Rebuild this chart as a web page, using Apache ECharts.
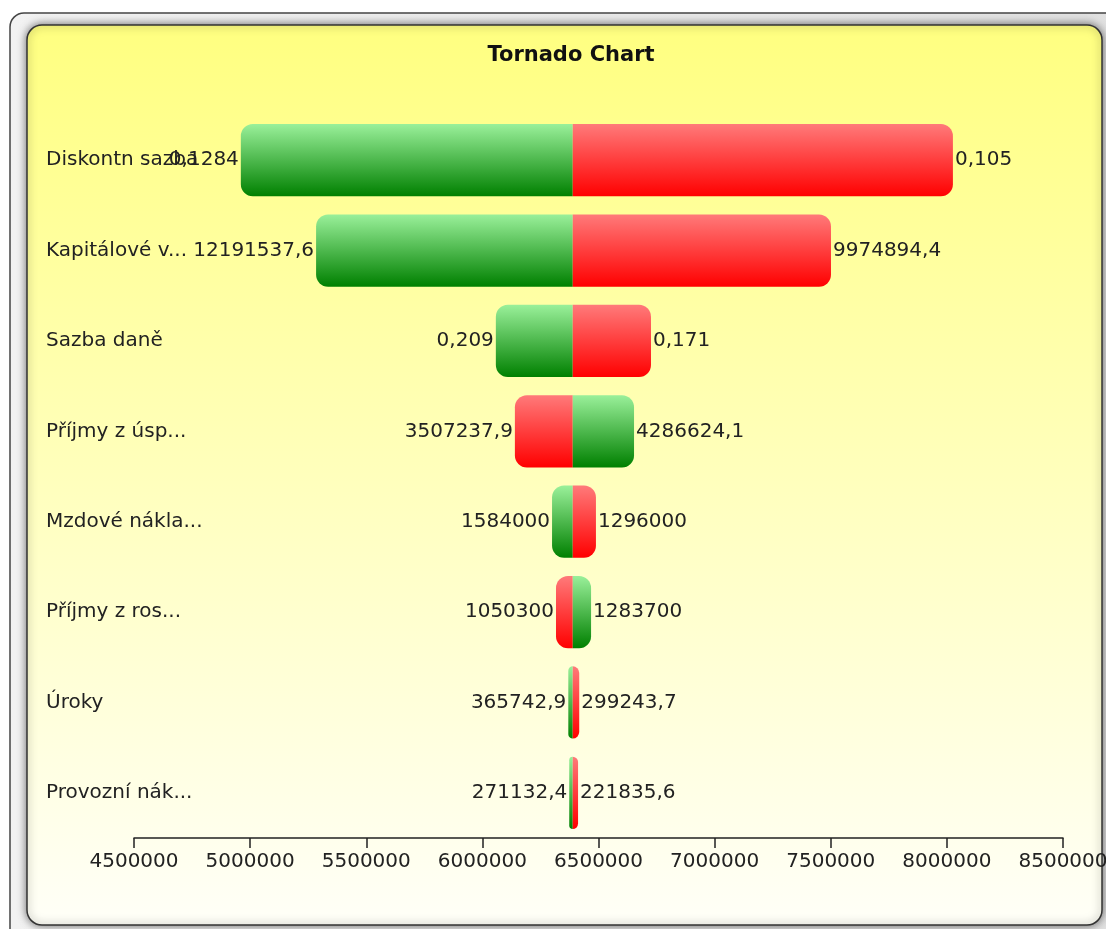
<!DOCTYPE html>
<html>
<head>
<meta charset="utf-8">
<script src="https://cdn.jsdelivr.net/npm/echarts@6/dist/echarts.min.js"></script>
<style>
  html, body { margin: 0; padding: 0; background: #ffffff; overflow: hidden; }
  #chart { width: 1106px; height: 929px; }
</style>
</head>
<body>
<div id="chart"></div>
<script>
// ---- data ----
const categories = ['Diskontn sazba', 'Kapitálové v...', 'Sazba daně', 'Příjmy z úsp...', 'Mzdové nákla...', 'Příjmy z ros...', 'Úroky', 'Provozní nák...'];
const baseNPV = 6389000;
// NPV when the input is at its high (+10 %) value -> green
const npvHigh = [4960000, 5284000, 6058000, 6653000, 6300000, 6468000, 6370000, 6374000];
// NPV when the input is at its low (-10 %) value -> red
const npvLow  = [8026000, 7501000, 6726000, 6140000, 6489000, 6317000, 6417000, 6412000];
const highInputLabels = ['0,1284', '12191537,6', '0,209', '4286624,1', '1584000', '1283700', '365742,9', '271132,4'];
const lowInputLabels  = ['0,105', '9974894,4', '0,171', '3507237,9', '1296000', '1050300', '299243,7', '221835,6'];
const axisMin = 4500000, axisMax = 8500000, axisStep = 500000;

// ---- styles ----
const FONT = 'DejaVu Sans';
const greenGrad = { type: 'linear', x: 0, y: 0, x2: 0, y2: 1,
  colorStops: [{ offset: 0, color: '#9af09a' }, { offset: 1, color: '#008000' }] };
const redGrad = { type: 'linear', x: 0, y: 0, x2: 0, y2: 1,
  colorStops: [{ offset: 0, color: '#ff7a7a' }, { offset: 1, color: '#ff0000' }] };

// ---- build rows ----
const leftEdge = [], leftSeg = [], rightSeg = [], leftText = [], rightText = [];
categories.forEach((c, i) => {
  const highIsLeft = npvHigh[i] <= npvLow[i];
  const lo = Math.min(npvHigh[i], npvLow[i]);
  const hi = Math.max(npvHigh[i], npvLow[i]);
  leftEdge.push(lo);
  leftSeg.push({ value: baseNPV - lo, itemStyle: { color: highIsLeft ? greenGrad : redGrad } });
  rightSeg.push({ value: hi - baseNPV, itemStyle: { color: highIsLeft ? redGrad : greenGrad } });
  leftText.push(highIsLeft ? highInputLabels[i] : lowInputLabels[i]);
  rightText.push(highIsLeft ? lowInputLabels[i] : highInputLabels[i]);
});

const chart = echarts.init(document.getElementById('chart'), null, { renderer: 'canvas' });
const option = {
  animation: false,
  backgroundColor: '#ffffff',
  graphic: [
    { type: 'rect', z: -10, silent: true,
      shape: { x: 10, y: 13, width: 1120, height: 940, r: 14 },
      style: { fill: { type: 'linear', x: 0, y: 0, x2: 1, y2: 0,
        colorStops: [{ offset: 0, color: '#f2f2f2' }, { offset: 1, color: '#e0e0e0' }] },
        stroke: '#444', lineWidth: 1.5 } },
    { type: 'rect', z: -9, silent: true,
      shape: { x: 27, y: 25, width: 1075, height: 900, r: 15 },
      style: { fill: { type: 'linear', x: 0, y: 0, x2: 0, y2: 1,
        colorStops: [{ offset: 0, color: '#ffff80' }, { offset: 1, color: '#fffff8' }] },
        stroke: '#333', lineWidth: 1.5,
        shadowBlur: 8, shadowColor: 'rgba(0,0,0,0.55)' } }
  ],
  title: {
    text: 'Tornado Chart',
    left: 566, top: 40, textAlign: 'center',
    textStyle: { fontFamily: FONT, fontSize: 21, fontWeight: 'bold', color: '#111' }
  },
  grid: { left: 134, right: 43, top: 115, bottom: 91, containLabel: false, outerBoundsMode: 'none' },
  xAxis: {
    type: 'value', min: axisMin, max: axisMax, interval: axisStep,
    splitLine: { show: false },
    axisLine: { show: true, lineStyle: { color: '#222', width: 1.5 } },
    axisTick: { show: true, length: 10, lineStyle: { color: '#222', width: 1.5 } },
    axisLabel: { margin: 14, fontFamily: FONT, fontSize: 20, color: '#222',
      hideOverlap: false, showMaxLabel: true, showMinLabel: true,
      formatter: v => String(v) }
  },
  yAxis: {
    type: 'category', data: categories, inverse: true,
    axisLine: { show: false }, axisTick: { show: false }, splitLine: { show: false },
    axisLabel: { align: 'left', margin: 88, fontFamily: FONT, fontSize: 20, color: '#222' }
  },
  series: [
    { name: 'offset', type: 'bar', stack: 'tornado', silent: true,
      barCategoryGap: '20%',
      itemStyle: { color: 'transparent' },
      data: leftEdge },
    { name: 'left', type: 'bar', stack: 'tornado',
      barCategoryGap: '20%',
      itemStyle: { borderRadius: [12, 0, 0, 12] },
      label: { show: true, position: 'left', distance: 2, fontFamily: FONT, fontSize: 20, color: '#222',
        formatter: p => leftText[p.dataIndex] },
      data: leftSeg },
    { name: 'right', type: 'bar', stack: 'tornado',
      barCategoryGap: '20%',
      itemStyle: { borderRadius: [0, 12, 12, 0] },
      label: { show: true, position: 'right', distance: 2, fontFamily: FONT, fontSize: 20, color: '#222',
        formatter: p => rightText[p.dataIndex] },
      data: rightSeg }
  ]
};
chart.setOption(option);
</script>
</body>
</html>
